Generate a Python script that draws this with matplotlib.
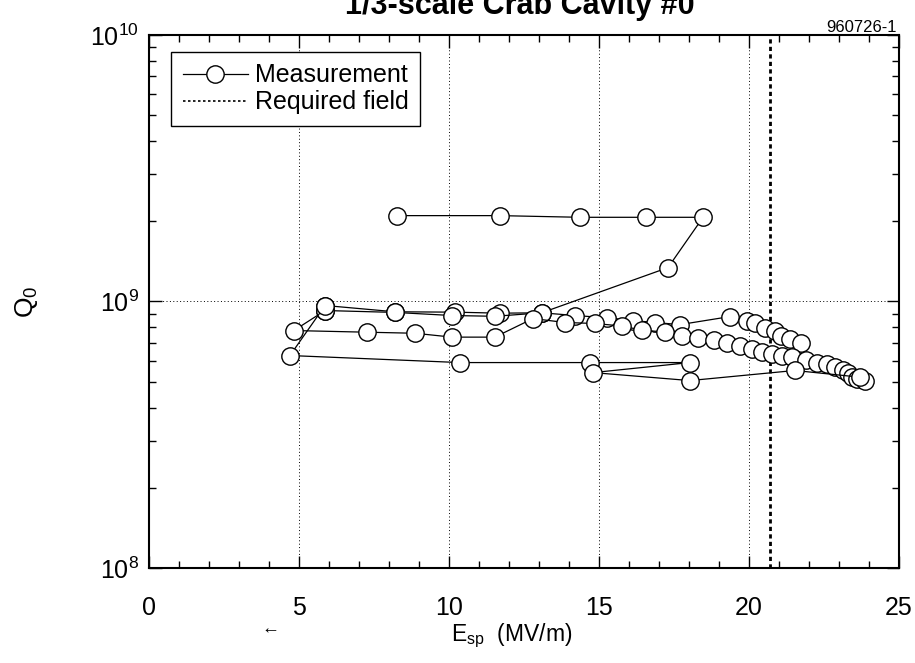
import matplotlib
matplotlib.use('Agg')
import matplotlib.pyplot as mpl
from matplotlib.lines import Line2D
from matplotlib.ticker import MultipleLocator, LogLocator, NullFormatter

# E_sp in MV/m, Q0 values, one list per sweep
run_1_esp = [8.26, 11.70, 14.37, 16.57, 18.47, 17.30, 13.09, 11.70, 10.20, 8.20, 5.87]
run_1_q0 = [2.10e9, 2.10e9, 2.07e9, 2.07e9, 2.07e9, 1.34e9, 9.07e8, 9.04e8, 9.12e8, 9.15e8, 9.66e8]

run_2_esp = [5.87, 8.20, 10.09, 11.53, 13.09, 14.20, 15.26, 16.13, 16.87, 17.70,
             19.37, 19.93, 20.20, 20.53, 20.87, 21.07, 21.37, 21.73]
run_2_q0 = [9.25e8, 9.10e8, 8.86e8, 8.80e8, 9.07e8, 8.86e8, 8.69e8, 8.48e8, 8.34e8, 8.19e8,
            8.78e8, 8.48e8, 8.27e8, 7.98e8, 7.78e8, 7.45e8, 7.26e8, 6.98e8]

run_3_esp = [5.87, 4.83, 7.26, 8.87, 10.10, 11.53, 12.80, 13.87, 14.87, 15.76, 16.43, 17.20,
             17.76, 18.30, 18.83, 19.27, 19.70, 20.09, 20.42, 20.76, 21.09, 21.42, 21.90,
             22.27, 22.60, 22.87, 23.13, 23.30, 23.43, 23.60, 23.87]
run_3_q0 = [9.25e8, 7.78e8, 7.67e8, 7.60e8, 7.35e8, 7.35e8, 8.63e8, 8.34e8, 8.27e8, 8.09e8, 7.81e8, 7.68e8,
            7.45e8, 7.32e8, 7.17e8, 6.98e8, 6.80e8, 6.66e8, 6.49e8, 6.38e8, 6.27e8, 6.17e8, 6.03e8,
            5.90e8, 5.82e8, 5.67e8, 5.51e8, 5.38e8, 5.22e8, 5.13e8, 5.05e8]

run_4_esp = [5.87, 4.70, 10.37, 14.70, 18.03, 14.80, 18.03, 21.53, 23.70]
run_4_q0 = [9.66e8, 6.27e8, 5.90e8, 5.90e8, 5.90e8, 5.41e8, 5.05e8, 5.51e8, 5.20e8]

required_field = 20.7

runs = [(run_1_esp, run_1_q0), (run_2_esp, run_2_q0), (run_3_esp, run_3_q0), (run_4_esp, run_4_q0)]

mpl.rcParams['font.family'] = ['Liberation Sans', 'DejaVu Sans']
mpl.rcParams['mathtext.default'] = 'regular'

fig = mpl.figure(figsize=(9.15, 6.63), dpi=100)
ax = fig.add_axes([0.1628, 0.1433, 0.8197, 0.8039])

marker_style = dict(color='black', linewidth=0.9, marker='o', markersize=12.5,
                    markerfacecolor='white', markeredgecolor='black', markeredgewidth=1.0)

for esp, q0 in runs:
    ax.plot(esp, q0, zorder=3, **marker_style)

ax.axvline(required_field, color='black', linewidth=2.0, linestyle=(0, (1.5, 1.2)), zorder=2)

ax.set_yscale('log')
ax.set_xlim(0, 25)
ax.set_ylim(1e8, 1e10)

ax.xaxis.set_major_locator(MultipleLocator(5))
ax.xaxis.set_minor_locator(MultipleLocator(1))
ax.yaxis.set_major_locator(LogLocator(base=10))
ax.yaxis.set_minor_locator(LogLocator(base=10, subs=range(2, 10)))
ax.yaxis.set_minor_formatter(NullFormatter())

ax.grid(True, which='major', color='black', linewidth=0.7, linestyle=(0, (1, 2.5)))

ax.tick_params(which='both', direction='in', top=True, right=True, width=1.0)
ax.tick_params(which='major', length=9)
ax.tick_params(which='minor', length=5)
ax.tick_params(axis='x', which='major', labelsize=18, pad=20)
ax.tick_params(axis='y', which='major', labelsize=18, pad=7)
for spine in ax.spines.values():
    spine.set_linewidth(1.5)

ax.set_xlabel('E$_{sp}$  (MV/m)', fontsize=16.5)
ax.xaxis.set_label_coords(0.484, -0.1)
ax.set_ylabel('Q$_0$', fontsize=19)
ax.yaxis.set_label_coords(-0.145, 0.5)

handles = [Line2D([], [], **marker_style),
           Line2D([], [], color='black', linewidth=1.2, linestyle=(0, (1.5, 1.5)))]
leg = ax.legend(handles, ['Measurement', 'Required field'], loc='upper left',
                bbox_to_anchor=(0.030, 0.968), borderaxespad=0, fontsize=18,
                handlelength=2.6, handletextpad=0.3, labelspacing=0.12, borderpad=0.45,
                fancybox=False, framealpha=1, edgecolor='black')
leg.get_frame().set_linewidth(1.0)

fig.text(0.568, 0.979, '1/3-scale Crab Cavity #0', ha='center', va='baseline',
         fontsize=22, fontweight='bold')
fig.text(0.980, 0.952, '960726-1', ha='right', va='baseline', fontsize=12)
fig.text(0.295, 0.045, '\u2190', ha='center', va='baseline', fontsize=13)

fig.savefig('out.png', dpi=100)
